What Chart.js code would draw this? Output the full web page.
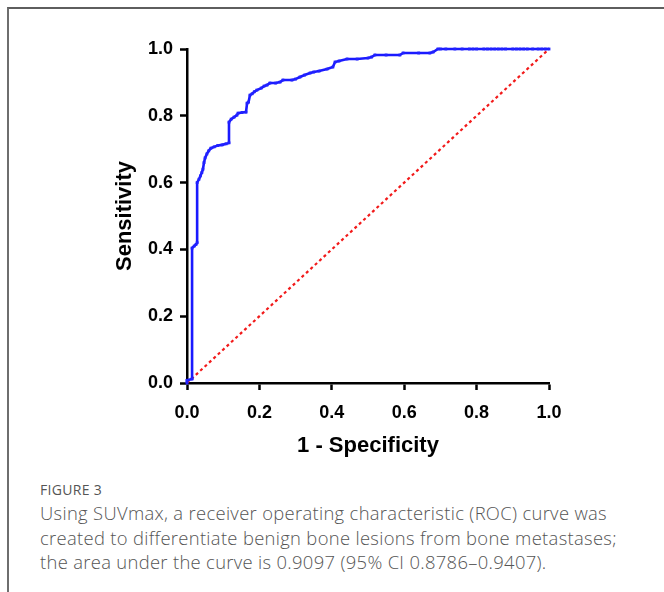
<!DOCTYPE html>
<html>
<head>
<meta charset="utf-8">
<script src="https://cdn.jsdelivr.net/npm/chart.js@4/dist/chart.umd.min.js"></script>
<style>
  html, body { margin: 0; padding: 0; background: #fff; }
  body { width: 664px; height: 592px; position: relative; overflow: hidden; }
  #frame { position: absolute; left: 7px; top: 7px; width: 700px; height: 700px;
           border-top: 2px solid #5e5e5e; border-left: 2px solid #6e6e6e; }
  #wrap { position: absolute; left: 0; top: 0; width: 664px; height: 470px; }
  #fig { position: absolute; left: 40px; top: 480px; font-family: "Open Sans", sans-serif;
         font-size: 14px; color: #555; letter-spacing: 0.3px; }
  #cap { position: absolute; left: 40px; top: 501px; width: 624px; font-family: "Open Sans", sans-serif;
         font-size: 18.4px; font-weight: 300; letter-spacing: 0.32px; line-height: 24.5px; color: #555; white-space: nowrap; }
</style>
</head>
<body>
<div id="frame"></div>
<div id="wrap"><canvas id="c" width="664" height="470"></canvas></div>
<div id="fig">FIGURE 3</div>
<div id="cap">Using SUVmax, a receiver operating characteristic (ROC) curve was<br>created to differentiate benign bone lesions from bone metastases;<br>the area under the curve is 0.9097 (95% CI 0.8786–0.9407).</div>
<script>
// ROC curve: 1 - specificity (x) and sensitivity (y)
const fpr = [0, 0, 0.014, 0.014, 0.02, 0.025, 0.028, 0.028, 0.033, 0.037, 0.041, 0.044, 0.047, 0.05,
  0.055, 0.06, 0.066, 0.075, 0.085, 0.097, 0.108, 0.116, 0.116, 0.122, 0.13, 0.138, 0.141, 0.152,
  0.163, 0.166, 0.17, 0.174, 0.18, 0.186, 0.193, 0.205, 0.213, 0.221, 0.229, 0.245, 0.257, 0.265,
  0.29, 0.3, 0.312, 0.325, 0.34, 0.35, 0.365, 0.387, 0.403, 0.409, 0.42, 0.442, 0.47, 0.5, 0.51,
  0.519, 0.55, 0.588, 0.597, 0.64, 0.671, 0.68, 0.693, 0.70, 0.715, 0.74, 0.76, 0.78, 0.79, 0.80,
  0.82, 0.83, 0.84, 0.85, 0.86, 0.87, 0.88, 0.90, 0.91, 0.92, 0.93, 0.94, 0.955, 0.97, 0.98, 0.99, 1.0];
const tpr = [0, 0.008, 0.012, 0.404, 0.41, 0.415, 0.42, 0.60, 0.61, 0.62, 0.63, 0.64, 0.66, 0.674,
  0.686, 0.695, 0.703, 0.707, 0.711, 0.713, 0.716, 0.719, 0.781, 0.79, 0.796, 0.802, 0.808, 0.81,
  0.811, 0.838, 0.841, 0.862, 0.866, 0.872, 0.877, 0.883, 0.889, 0.892, 0.898, 0.898, 0.901, 0.907,
  0.907, 0.91, 0.916, 0.922, 0.928, 0.931, 0.934, 0.94, 0.946, 0.961, 0.964, 0.97, 0.97, 0.973, 0.976,
  0.982, 0.982, 0.982, 0.988, 0.988, 0.988, 0.991, 1.0, 1.0, 1.0, 1.0, 1.0, 1.0, 1.0, 1.0,
  1.0, 1.0, 1.0, 1.0, 1.0, 1.0, 1.0, 1.0, 1.0, 1.0, 1.0, 1.0, 1.0, 1.0, 1.0, 1.0, 1.0];
// Reference (chance) line
const refX = [0, 1];
const refY = [0, 1];
const tickValues = [0, 0.2, 0.4, 0.6, 0.8, 1.0];
const xTitle = "1 - Specificity";
const yTitle = "Sensitivity";

const rocPts = fpr.map((x, i) => ({ x: x, y: tpr[i] }));
const refPts = refX.map((x, i) => ({ x: x, y: refY[i] }));

const tickFont = { family: "'Liberation Sans', Arial, sans-serif", size: 18, weight: 'bold' };
const titleFont = { family: "'Liberation Sans', Arial, sans-serif", size: 22, weight: 'bold' };

new Chart(document.getElementById('c'), {
  type: 'scatter',
  data: {
    datasets: [
      { data: rocPts, showLine: true, borderColor: '#1a1aff', backgroundColor: '#2222ff',
        borderWidth: 2.6, pointRadius: 2, pointStyle: 'rect', pointBorderWidth: 0,
        order: 0, clip: false },
      { data: refPts, showLine: true, borderColor: '#f21a1a', borderWidth: 2.2,
        borderDash: [3, 3], pointRadius: 0, order: 1, clip: false }
    ]
  },
  options: {
    responsive: false,
    animation: false,
    events: [],
    layout: { padding: { left: 100, right: 115, top: 49, bottom: 10 } },
    plugins: { legend: { display: false }, tooltip: { enabled: false } },
    scales: {
      x: {
        type: 'linear', min: 0, max: 1,
        afterBuildTicks: s => { s.ticks = tickValues.map(v => ({ value: v })); },
        afterFit: s => { s.height = 77; },
        ticks: { font: tickFont, color: '#000', padding: 12, maxRotation: 0,
                 callback: v => Number(v).toFixed(1) },
        grid: { drawOnChartArea: false, drawTicks: true, tickLength: 7, tickWidth: 2.5, tickColor: '#000' },
        border: { display: true, color: '#000', width: 2.5 },
        title: { display: true, text: xTitle, font: titleFont, color: '#000', padding: { top: 0, bottom: 1 } }
      },
      y: {
        type: 'linear', min: 0, max: 1,
        afterBuildTicks: s => { s.ticks = tickValues.map(v => ({ value: v })); },
        afterFit: s => { s.width = 87; },
        ticks: { font: tickFont, color: '#000', padding: 7,
                 callback: v => Number(v).toFixed(1) },
        grid: { drawOnChartArea: false, drawTicks: true, tickLength: 7, tickWidth: 2.5, tickColor: '#000' },
        border: { display: true, color: '#000', width: 2.5 },
        title: { display: true, text: yTitle, font: titleFont, color: '#000', padding: { top: 12, bottom: 0 } }
      }
    }
  }
});
</script>
</body>
</html>
